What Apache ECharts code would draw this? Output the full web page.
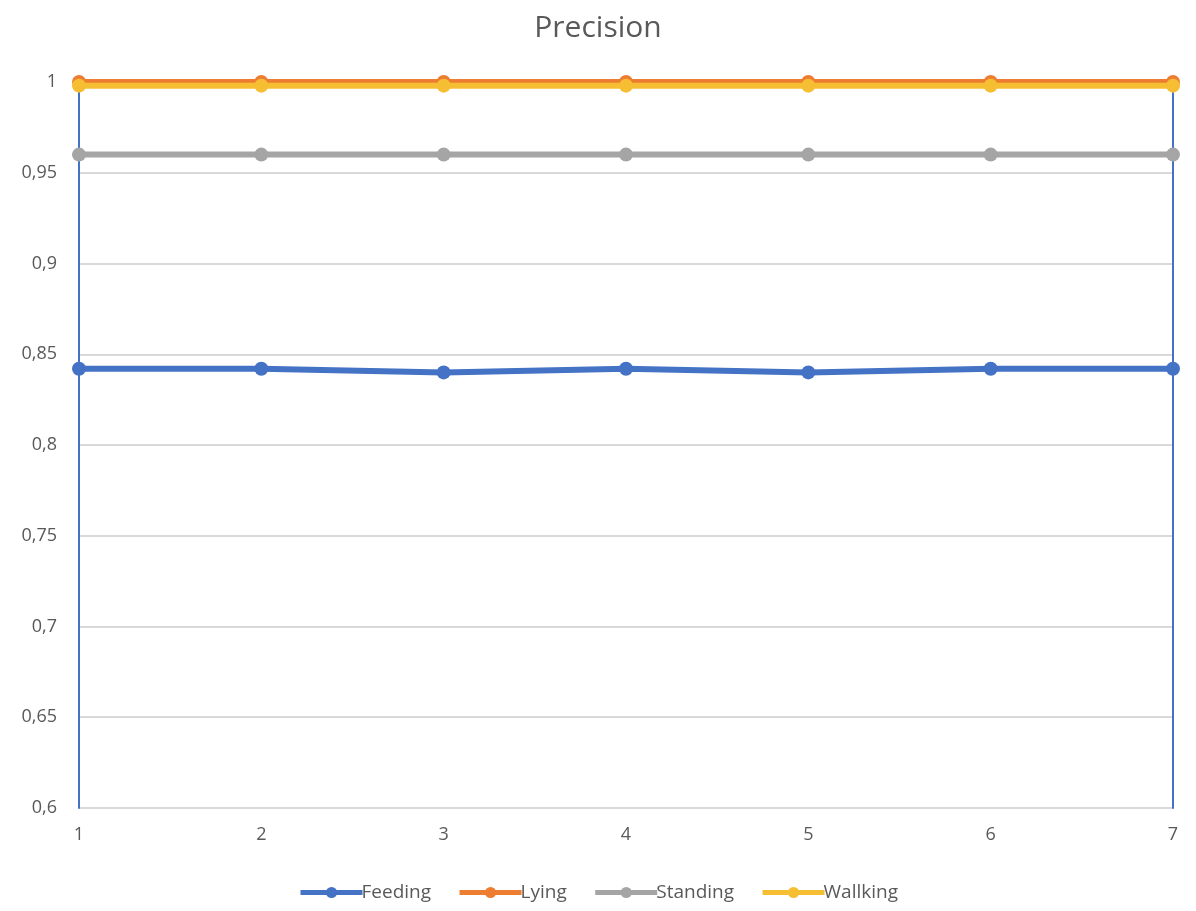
<!DOCTYPE html>
<html>
<head>
<meta charset="utf-8">
<script src="https://cdn.jsdelivr.net/npm/echarts@6/dist/echarts.min.js"></script>
<style>html,body{margin:0;padding:0;background:#fff}#c{width:1196px;height:911px}</style>
</head>
<body>
<div id="c"></div>
<script>
const categories = ['1','2','3','4','5','6','7'];
const feeding = [0.842, 0.842, 0.840, 0.842, 0.840, 0.842, 0.842];
const lying = [1.0, 1.0, 1.0, 1.0, 1.0, 1.0, 1.0];
const standing = [0.960, 0.960, 0.960, 0.960, 0.960, 0.960, 0.960];
const walking = [0.998, 0.998, 0.998, 0.998, 0.998, 0.998, 0.998];
const seriesNames = ['Feeding','Lying','Standing','Wallking'];
const colors = ['#4472C4','#ED7D31','#A5A5A5','#F6BE33'];

const chart = echarts.init(document.getElementById('c'));
const fmt = v => String(+v.toFixed(2)).replace('.', ',');
const mk = (name, data, i) => ({
  name, type: 'line', data,
  symbol: 'circle', symbolSize: 14,
  lineStyle: { width: 6, color: colors[i] },
  itemStyle: { color: colors[i] },
  z: 2 + i
});
chart.setOption({
  animation: false,
  title: { text: 'Precision', left: 'center', top: 8,
    textStyle: { fontFamily: 'Open Sans', fontSize: 30, fontWeight: 'normal', color: '#595959' } },
  grid: { left: 79, right: 23, top: 82, bottom: 103 },
  legend: { bottom: 4, left: 'center', itemWidth: 62, itemHeight: 14, itemGap: 26,
    lineStyle: { width: 5 },
    textStyle: { fontFamily: 'Open Sans', fontSize: 19, color: '#595959', padding: [0, 0, 0, -6] } },
  xAxis: { type: 'category', data: categories, boundaryGap: false,
    axisLine: { show: false }, axisTick: { show: false },
    axisLabel: { fontFamily: 'Open Sans', fontSize: 18, color: '#595959', margin: 18 } },
  yAxis: [
    { type: 'value', min: 0.6, max: 1, interval: 0.05,
      axisLine: { show: true, lineStyle: { color: '#4472C4', width: 2 } },
      axisTick: { show: false },
      splitLine: { lineStyle: { color: '#D9D9D9', width: 2 } },
      axisLabel: { formatter: fmt, fontFamily: 'Open Sans', fontSize: 18, color: '#595959', margin: 22 } },
    { type: 'value', min: 0.6, max: 1, interval: 0.05, position: 'right',
      axisLine: { show: true, lineStyle: { color: '#4472C4', width: 2 } },
      axisTick: { show: false }, splitLine: { show: false }, axisLabel: { show: false } }
  ],
  series: [mk(seriesNames[0], feeding, 0), mk(seriesNames[1], lying, 1), mk(seriesNames[2], standing, 2), mk(seriesNames[3], walking, 3)]
});
</script>
</body>
</html>
